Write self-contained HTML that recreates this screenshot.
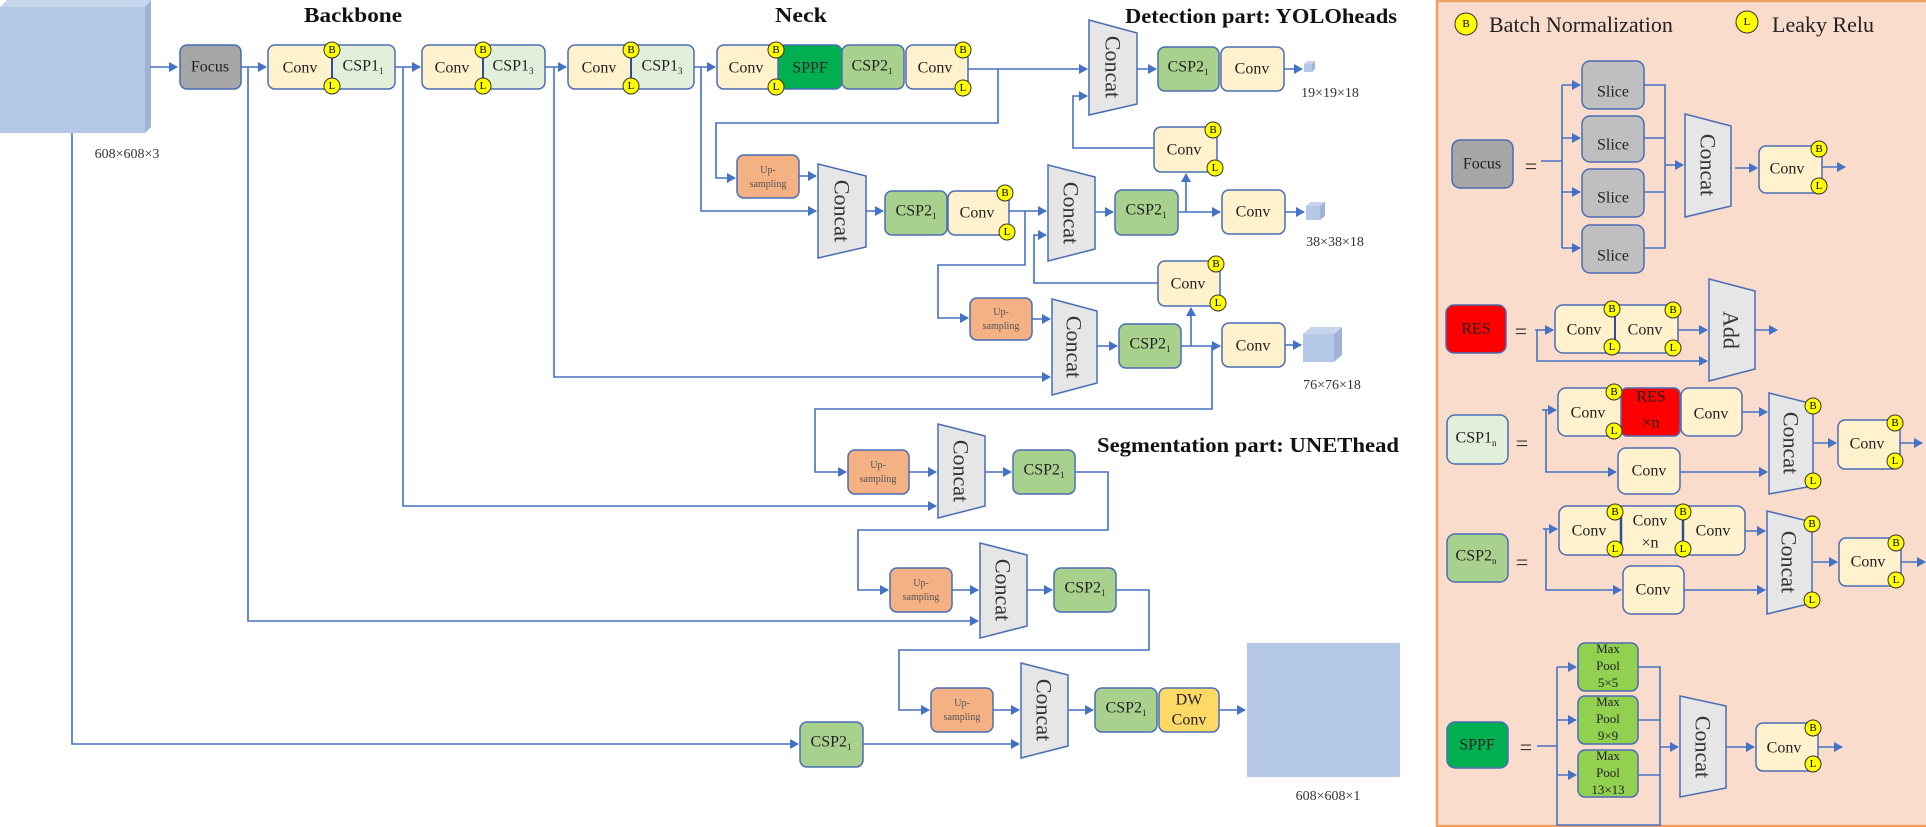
<!DOCTYPE html>
<html><head><meta charset="utf-8"><style>
html,body{margin:0;padding:0;background:#fff;}
svg{display:block;font-family:"Liberation Serif",serif;}
.b{stroke:#4a6db5;stroke-width:1.5;}
.ln{stroke:#4472c4;stroke-width:1.6;fill:none;}
.t{font-size:16px;fill:#222;text-anchor:middle;dominant-baseline:central;}
.c{font-size:22px;fill:#333;text-anchor:middle;dominant-baseline:central;}
.s{font-size:9px;}
.cir{fill:#ffff00;stroke:#333;stroke-width:1;}
.ct{font-size:11px;fill:#000;text-anchor:middle;dominant-baseline:central;}
.ti{font-size:21px;font-weight:bold;fill:#111;text-anchor:middle;}
.lb{font-size:14px;fill:#333;text-anchor:middle;}
</style></head><body>
<svg width="1926" height="827" viewBox="0 0 1926 827" xmlns="http://www.w3.org/2000/svg">
<defs>
<marker id="a" markerWidth="10" markerHeight="10" refX="8" refY="5" orient="auto" markerUnits="userSpaceOnUse"><path d="M0,0 L9,5 L0,10 z" fill="#4472c4"/></marker>
</defs>

<rect x="1437" y="1" width="495" height="825" fill="#f9dccb" stroke="#f0a060" stroke-width="2.5"/>

<polygon points="0,7 7,0 151,0 145,7" fill="#c6d4ec"/>
<polygon points="145,7 151,0 151,127 145,133" fill="#9fb3d6"/>
<rect x="0" y="7" width="145" height="126" fill="#b4c7e7"/>
<text x="127" y="158" class="lb">608×608×3</text>

<text x="353" y="22" class="ti" textLength="98" lengthAdjust="spacingAndGlyphs">Backbone</text>
<text x="801" y="22" class="ti" textLength="52" lengthAdjust="spacingAndGlyphs">Neck</text>
<text x="1261" y="23" class="ti" textLength="272" lengthAdjust="spacingAndGlyphs">Detection part: YOLOheads</text>
<text x="1248" y="452" class="ti" textLength="302" lengthAdjust="spacingAndGlyphs">Segmentation part: UNEThead</text>

<g class="ln">
<path d="M150,67 H177" marker-end="url(#a)"/>
<path d="M241,67 H266" marker-end="url(#a)"/>
<path d="M395,67 H420" marker-end="url(#a)"/>
<path d="M545,67 H566" marker-end="url(#a)"/>
<path d="M694,67 H715" marker-end="url(#a)"/>
<path d="M72,133 V744 H798" marker-end="url(#a)"/>
<path d="M248,67 V621 H978" marker-end="url(#a)"/>
<path d="M403,67 V506 H936" marker-end="url(#a)"/>
<path d="M554,67 V377 H1050" marker-end="url(#a)"/>
<path d="M701,67 V211 H816" marker-end="url(#a)"/>
<path d="M968,69 H1087" marker-end="url(#a)"/>
<path d="M998,69 V123 H716 V178 H735" marker-end="url(#a)"/>
<path d="M799,176 H816" marker-end="url(#a)"/>
<path d="M866,211 H883" marker-end="url(#a)"/>
<path d="M1009,211 H1046" marker-end="url(#a)"/>
<path d="M1025,211 V265 H938 V318 H968" marker-end="url(#a)"/>
<path d="M1032,319 H1050" marker-end="url(#a)"/>
<path d="M1158,283 H1034 V235 H1046" marker-end="url(#a)"/>
<path d="M1095,212 H1113" marker-end="url(#a)"/>
<path d="M1178,212 H1220" marker-end="url(#a)"/>
<path d="M1186,212 V174" marker-end="url(#a)"/>
<path d="M1154,148 H1073 V96 H1087" marker-end="url(#a)"/>
<path d="M1285,212 H1304" marker-end="url(#a)"/>
<path d="M1137,69 H1156" marker-end="url(#a)"/>
<path d="M1284,69 H1302" marker-end="url(#a)"/>
<path d="M1097,346 H1117" marker-end="url(#a)"/>
<path d="M1181,346 H1220" marker-end="url(#a)"/>
<path d="M1191,346 V308" marker-end="url(#a)"/>
<path d="M1285,345 H1301" marker-end="url(#a)"/>
<path d="M1212,346 V409 H815 V472 H846" marker-end="url(#a)"/>
<path d="M909,472 H936" marker-end="url(#a)"/>
<path d="M985,472 H1011" marker-end="url(#a)"/>
<path d="M1075,472 H1108 V530 H858 V590 H888" marker-end="url(#a)"/>
<path d="M952,590 H978" marker-end="url(#a)"/>
<path d="M1027,590 H1052" marker-end="url(#a)"/>
<path d="M1116,590 H1149 V650 H899 V710 H929" marker-end="url(#a)"/>
<path d="M993,710 H1019" marker-end="url(#a)"/>
<path d="M1068,710 H1093" marker-end="url(#a)"/>
<path d="M1219,710 H1245" marker-end="url(#a)"/>
<path d="M863,744 H1019" marker-end="url(#a)"/>
</g>

<rect x="180" y="45" width="61" height="44" rx="7" fill="#a6a6a6" class="b"/>
<text x="210" y="67" class="t">Focus</text>

<g>
<rect x="268" y="45" width="127" height="44" rx="7" fill="#fff2cc" class="b"/>
<path d="M332,46 H388 a6,6 0 0 1 6,6 V82 a6,6 0 0 1 -6,6 H332 z" fill="#e2efda"/>
<line x1="332" y1="46" x2="332" y2="88" stroke="#2f4f8f" stroke-width="2"/>
<text x="300" y="68" class="t">Conv</text><text x="363" y="66" class="t">CSP1<tspan class="s" dy="5">1</tspan></text>
<circle cx="332" cy="50" r="8" class="cir"/><text x="332" y="50" class="ct">B</text>
<circle cx="332" cy="86" r="8" class="cir"/><text x="332" y="86" class="ct">L</text>

<rect x="422" y="45" width="123" height="44" rx="7" fill="#fff2cc" class="b"/>
<path d="M483,46 H538 a6,6 0 0 1 6,6 V82 a6,6 0 0 1 -6,6 H483 z" fill="#e2efda"/>
<line x1="483" y1="46" x2="483" y2="88" stroke="#2f4f8f" stroke-width="2"/>
<text x="452" y="68" class="t">Conv</text><text x="513" y="66" class="t">CSP1<tspan class="s" dy="5">3</tspan></text>
<circle cx="483" cy="50" r="8" class="cir"/><text x="483" y="50" class="ct">B</text>
<circle cx="483" cy="86" r="8" class="cir"/><text x="483" y="86" class="ct">L</text>

<rect x="568" y="45" width="126" height="44" rx="7" fill="#fff2cc" class="b"/>
<path d="M631,46 H687 a6,6 0 0 1 6,6 V82 a6,6 0 0 1 -6,6 H631 z" fill="#e2efda"/>
<line x1="631" y1="46" x2="631" y2="88" stroke="#2f4f8f" stroke-width="2"/>
<text x="599" y="68" class="t">Conv</text><text x="662" y="66" class="t">CSP1<tspan class="s" dy="5">3</tspan></text>
<circle cx="631" cy="50" r="8" class="cir"/><text x="631" y="50" class="ct">B</text>
<circle cx="631" cy="86" r="8" class="cir"/><text x="631" y="86" class="ct">L</text>
</g>

<rect x="717" y="45" width="63" height="44" rx="7" fill="#fff2cc" class="b"/>
<rect x="778" y="45" width="64" height="44" rx="7" fill="#00b050" class="b"/>
<rect x="842" y="45" width="62" height="44" rx="7" fill="#a9d18e" class="b"/>
<rect x="906" y="45" width="62" height="44" rx="7" fill="#fff2cc" class="b"/>
<text x="746" y="68" class="t">Conv</text><text x="810" y="68" class="t">SPPF</text>
<text x="872" y="66" class="t">CSP2<tspan class="s" dy="5">1</tspan></text><text x="935" y="68" class="t">Conv</text>
<circle cx="776" cy="50" r="8" class="cir"/><text x="776" y="50" class="ct">B</text>
<circle cx="776" cy="87" r="8" class="cir"/><text x="776" y="87" class="ct">L</text>
<circle cx="963" cy="50" r="8" class="cir"/><text x="963" y="50" class="ct">B</text>
<circle cx="963" cy="88" r="8" class="cir"/><text x="963" y="88" class="ct">L</text>

<g fill="#e7e6e6" class="b">
<polygon points="1089,20 1137,33 1137,104 1089,115"/>
<polygon points="818,164 866,176 866,247 818,258"/>
<polygon points="1048,165 1095,177 1095,249 1048,261"/>
<polygon points="1052,299 1097,311 1097,383 1052,395"/>
<polygon points="938,424 985,436 985,506 938,518"/>
<polygon points="980,543 1027,555 1027,626 980,638"/>
<polygon points="1021,663 1068,675 1068,746 1021,758"/>
</g>
<g class="c">
<text transform="rotate(90 1113 67)" x="1113" y="67">Concat</text>
<text transform="rotate(90 842 211)" x="842" y="211">Concat</text>
<text transform="rotate(90 1071 213)" x="1071" y="213">Concat</text>
<text transform="rotate(90 1074 347)" x="1074" y="347">Concat</text>
<text transform="rotate(90 961 471)" x="961" y="471">Concat</text>
<text transform="rotate(90 1003 590)" x="1003" y="590">Concat</text>
<text transform="rotate(90 1044 710)" x="1044" y="710">Concat</text>
</g>

<rect x="1158" y="47" width="61" height="44" rx="7" fill="#a9d18e" class="b"/>
<rect x="1221" y="47" width="63" height="44" rx="7" fill="#fff2cc" class="b"/>
<text x="1188" y="67" class="t">CSP2<tspan class="s" dy="5">1</tspan></text><text x="1252" y="69" class="t">Conv</text>
<rect x="1304" y="64" width="8" height="8" fill="#b4c7e7"/><polygon points="1304,64 1307,61 1315,61 1312,64" fill="#c6d4ec"/><polygon points="1312,64 1315,61 1315,69 1312,72" fill="#9fb3d6"/>
<text x="1330" y="97" class="lb">19×19×18</text>

<g fill="#f4b183" class="b">
<rect x="737" y="155" width="62" height="43" rx="7"/>
<rect x="970" y="298" width="62" height="42" rx="7"/>
<rect x="848" y="450" width="61" height="44" rx="7"/>
<rect x="890" y="568" width="62" height="44" rx="7"/>
<rect x="931" y="688" width="62" height="44" rx="7"/>
</g>
<g font-size="10" fill="#555" text-anchor="middle">
<text x="768" y="173">Up-</text><text x="768" y="187">sampling</text>
<text x="1001" y="315">Up-</text><text x="1001" y="329">sampling</text>
<text x="878" y="468">Up-</text><text x="878" y="482">sampling</text>
<text x="921" y="586">Up-</text><text x="921" y="600">sampling</text>
<text x="962" y="706">Up-</text><text x="962" y="720">sampling</text>
</g>

<rect x="885" y="191" width="62" height="44" rx="7" fill="#a9d18e" class="b"/>
<rect x="948" y="191" width="61" height="44" rx="7" fill="#fff2cc" class="b"/>
<text x="916" y="211" class="t">CSP2<tspan class="s" dy="5">1</tspan></text><text x="977" y="213" class="t">Conv</text>
<circle cx="1005" cy="193" r="8" class="cir"/><text x="1005" y="193" class="ct">B</text>
<circle cx="1007" cy="232" r="8" class="cir"/><text x="1007" y="232" class="ct">L</text>

<rect x="1154" y="127" width="63" height="45" rx="7" fill="#fff2cc" class="b"/>
<text x="1184" y="150" class="t">Conv</text>
<circle cx="1213" cy="130" r="8" class="cir"/><text x="1213" y="130" class="ct">B</text>
<circle cx="1215" cy="168" r="8" class="cir"/><text x="1215" y="168" class="ct">L</text>

<rect x="1115" y="190" width="63" height="45" rx="7" fill="#a9d18e" class="b"/>
<rect x="1222" y="190" width="63" height="44" rx="7" fill="#fff2cc" class="b"/>
<text x="1146" y="210" class="t">CSP2<tspan class="s" dy="5">1</tspan></text><text x="1253" y="212" class="t">Conv</text>
<rect x="1306" y="206" width="14" height="14" fill="#b4c7e7"/><polygon points="1306,206 1311,202 1325,202 1320,206" fill="#c6d4ec"/><polygon points="1320,206 1325,202 1325,216 1320,220" fill="#9fb3d6"/>
<text x="1335" y="246" class="lb">38×38×18</text>

<rect x="1158" y="261" width="62" height="45" rx="7" fill="#fff2cc" class="b"/>
<text x="1188" y="284" class="t">Conv</text>
<circle cx="1216" cy="264" r="8" class="cir"/><text x="1216" y="264" class="ct">B</text>
<circle cx="1218" cy="303" r="8" class="cir"/><text x="1218" y="303" class="ct">L</text>

<rect x="1119" y="324" width="62" height="44" rx="7" fill="#a9d18e" class="b"/>
<rect x="1222" y="323" width="63" height="44" rx="7" fill="#fff2cc" class="b"/>
<text x="1150" y="344" class="t">CSP2<tspan class="s" dy="5">1</tspan></text><text x="1253" y="346" class="t">Conv</text>
<rect x="1303" y="334" width="31" height="28" fill="#b4c7e7"/><polygon points="1303,334 1311,327 1342,327 1334,334" fill="#c6d4ec"/><polygon points="1334,334 1342,327 1342,355 1334,362" fill="#9fb3d6"/>
<text x="1332" y="389" class="lb">76×76×18</text>

<rect x="1013" y="450" width="62" height="44" rx="7" fill="#a9d18e" class="b"/>
<text x="1044" y="470" class="t">CSP2<tspan class="s" dy="5">1</tspan></text>
<rect x="1054" y="568" width="62" height="44" rx="7" fill="#a9d18e" class="b"/>
<text x="1085" y="588" class="t">CSP2<tspan class="s" dy="5">1</tspan></text>
<rect x="1095" y="688" width="62" height="44" rx="7" fill="#a9d18e" class="b"/>
<text x="1126" y="708" class="t">CSP2<tspan class="s" dy="5">1</tspan></text>
<rect x="1159" y="688" width="60" height="44" rx="7" fill="#ffd966" class="b"/>
<text x="1189" y="700" class="t">DW</text><text x="1189" y="720" class="t">Conv</text>
<rect x="800" y="722" width="63" height="45" rx="7" fill="#a9d18e" class="b"/>
<text x="831" y="742" class="t">CSP2<tspan class="s" dy="5">1</tspan></text>
<rect x="1247" y="643" width="153" height="134" fill="#b4c7e7"/>
<text x="1328" y="800" class="lb">608×608×1</text>

<circle cx="1466" cy="24" r="11" class="cir"/><text x="1466" y="24" class="ct" font-size="15">B</text>
<text x="1489" y="32" font-size="22" fill="#222">Batch Normalization</text>
<circle cx="1747" cy="22" r="11" class="cir"/><text x="1747" y="22" class="ct" font-size="15">L</text>
<text x="1772" y="32" font-size="22" fill="#222">Leaky Relu</text>

<g class="ln">
<path d="M1541,161 H1562 M1562,85 V248"/>
<path d="M1562,85 H1580" marker-end="url(#a)"/><path d="M1562,138 H1580" marker-end="url(#a)"/>
<path d="M1562,192 H1580" marker-end="url(#a)"/><path d="M1562,248 H1580" marker-end="url(#a)"/>
<path d="M1644,85 H1665 V248 H1644 M1644,138 H1665 M1644,192 H1665"/>
<path d="M1665,165 H1683" marker-end="url(#a)"/>
<path d="M1735,168 H1757" marker-end="url(#a)"/>
<path d="M1822,167 H1845" marker-end="url(#a)"/>
<path d="M1535,330 H1553" marker-end="url(#a)"/>
<path d="M1537,330 V361 H1707" marker-end="url(#a)"/>
<path d="M1678,330 H1707" marker-end="url(#a)"/>
<path d="M1755,330 H1777" marker-end="url(#a)"/>
<path d="M1542,410 H1556" marker-end="url(#a)"/>
<path d="M1546,410 V472 H1616" marker-end="url(#a)"/>
<path d="M1742,412 H1767" marker-end="url(#a)"/>
<path d="M1680,472 H1767" marker-end="url(#a)"/>
<path d="M1813,443 H1836" marker-end="url(#a)"/>
<path d="M1900,443 H1922" marker-end="url(#a)"/>
<path d="M1543,529 H1557" marker-end="url(#a)"/>
<path d="M1546,529 V590 H1621" marker-end="url(#a)"/>
<path d="M1745,531 H1765" marker-end="url(#a)"/>
<path d="M1684,590 H1765" marker-end="url(#a)"/>
<path d="M1813,562 H1837" marker-end="url(#a)"/>
<path d="M1901,562 H1925" marker-end="url(#a)"/>
<path d="M1537,746 H1557 M1557,667 V825 H1660 V667 H1638 M1638,720 H1660 M1638,775 H1660"/>
<path d="M1557,667 H1576" marker-end="url(#a)"/><path d="M1557,720 H1576" marker-end="url(#a)"/>
<path d="M1557,775 H1576" marker-end="url(#a)"/>
<path d="M1660,747 H1678" marker-end="url(#a)"/>
<path d="M1726,747 H1754" marker-end="url(#a)"/>
<path d="M1818,747 H1842" marker-end="url(#a)"/>
</g>

<rect x="1452" y="140" width="61" height="48" rx="8" fill="#a6a6a6" class="b"/>
<text x="1482" y="164" class="t" font-size="18">Focus</text>
<text x="1531" y="166" class="c" font-size="28">=</text>
<g fill="#bfbfbf" class="b">
<rect x="1582" y="61" width="62" height="48" rx="8"/><rect x="1582" y="116" width="62" height="46" rx="8"/>
<rect x="1582" y="169" width="62" height="48" rx="8"/><rect x="1582" y="225" width="62" height="48" rx="8"/>
</g>
<g class="t" font-size="18"><text x="1613" y="92">Slice</text><text x="1613" y="145">Slice</text><text x="1613" y="198">Slice</text><text x="1613" y="256">Slice</text></g>
<polygon points="1685,114 1731,126 1731,206 1685,217" fill="#e7e6e6" class="b"/>
<text transform="rotate(90 1708 165)" x="1708" y="165" class="c">Concat</text>
<rect x="1759" y="146" width="63" height="47" rx="7" fill="#fff2cc" class="b"/>
<text x="1787" y="169" class="t" font-size="18">Conv</text>
<circle cx="1819" cy="149" r="8" class="cir"/><text x="1819" y="149" class="ct">B</text>
<circle cx="1819" cy="186" r="8" class="cir"/><text x="1819" y="186" class="ct">L</text>

<rect x="1446" y="305" width="60" height="48" rx="8" fill="#ff0000" class="b"/>
<text x="1476" y="329" class="t" font-size="18">RES</text>
<text x="1521" y="331" class="c" font-size="28">=</text>
<rect x="1555" y="305" width="123" height="48" rx="8" fill="#fff2cc" class="b"/>
<line x1="1615" y1="306" x2="1615" y2="352" stroke="#2f4f8f" stroke-width="2"/>
<text x="1584" y="330" class="t" font-size="18">Conv</text><text x="1645" y="330" class="t" font-size="18">Conv</text>
<circle cx="1612" cy="309" r="8" class="cir"/><text x="1612" y="309" class="ct">B</text>
<circle cx="1673" cy="310" r="8" class="cir"/><text x="1673" y="310" class="ct">B</text>
<circle cx="1612" cy="347" r="8" class="cir"/><text x="1612" y="347" class="ct">L</text>
<circle cx="1673" cy="348" r="8" class="cir"/><text x="1673" y="348" class="ct">L</text>
<polygon points="1709,279 1755,291 1755,369 1709,381" fill="#e7e6e6" class="b"/>
<text transform="rotate(90 1731 330)" x="1731" y="330" class="c">Add</text>

<rect x="1447" y="415" width="61" height="49" rx="8" fill="#e2efda" class="b"/>
<text x="1476" y="438" class="t" font-size="17">CSP1<tspan class="s" dy="5">n</tspan></text>
<text x="1522" y="443" class="c" font-size="28">=</text>
<rect x="1558" y="388" width="64" height="48" rx="8" fill="#fff2cc" class="b"/>
<rect x="1621" y="388" width="59" height="48" rx="6" fill="#ff0000" class="b"/>
<rect x="1681" y="388" width="61" height="48" rx="8" fill="#fff2cc" class="b"/>
<text x="1588" y="413" class="t" font-size="18">Conv</text>
<text x="1651" y="397" class="t" font-size="17">RES</text><text x="1651" y="423" class="t" font-size="17">×n</text>
<text x="1711" y="414" class="t" font-size="18">Conv</text>
<circle cx="1614" cy="392" r="8" class="cir"/><text x="1614" y="392" class="ct">B</text>
<circle cx="1614" cy="431" r="8" class="cir"/><text x="1614" y="431" class="ct">L</text>
<rect x="1618" y="448" width="62" height="46" rx="8" fill="#fff2cc" class="b"/>
<text x="1649" y="471" class="t" font-size="18">Conv</text>
<polygon points="1769,393 1813,404 1813,486 1769,494" fill="#e7e6e6" class="b"/>
<text transform="rotate(90 1791 443)" x="1791" y="443" class="c">Concat</text>
<circle cx="1813" cy="406" r="8" class="cir"/><text x="1813" y="406" class="ct">B</text>
<circle cx="1813" cy="481" r="8" class="cir"/><text x="1813" y="481" class="ct">L</text>
<rect x="1838" y="420" width="62" height="49" rx="7" fill="#fff2cc" class="b"/>
<text x="1867" y="444" class="t" font-size="18">Conv</text>
<circle cx="1895" cy="423" r="8" class="cir"/><text x="1895" y="423" class="ct">B</text>
<circle cx="1895" cy="461" r="8" class="cir"/><text x="1895" y="461" class="ct">L</text>

<rect x="1447" y="534" width="61" height="48" rx="8" fill="#a9d18e" class="b"/>
<text x="1476" y="556" class="t" font-size="17">CSP2<tspan class="s" dy="5">n</tspan></text>
<text x="1522" y="562" class="c" font-size="28">=</text>
<rect x="1559" y="506" width="186" height="49" rx="8" fill="#fff2cc" class="b"/>
<line x1="1621" y1="507" x2="1621" y2="554" stroke="#2f4f8f" stroke-width="2.5"/>
<line x1="1683" y1="507" x2="1683" y2="554" stroke="#2f4f8f" stroke-width="2.5"/>
<text x="1589" y="531" class="t" font-size="18">Conv</text>
<text x="1650" y="521" class="t" font-size="17">Conv</text><text x="1650" y="543" class="t" font-size="17">×n</text>
<text x="1713" y="531" class="t" font-size="18">Conv</text>
<circle cx="1615" cy="512" r="8" class="cir"/><text x="1615" y="512" class="ct">B</text>
<circle cx="1683" cy="512" r="8" class="cir"/><text x="1683" y="512" class="ct">B</text>
<circle cx="1615" cy="549" r="8" class="cir"/><text x="1615" y="549" class="ct">L</text>
<circle cx="1683" cy="549" r="8" class="cir"/><text x="1683" y="549" class="ct">L</text>
<rect x="1623" y="566" width="61" height="48" rx="8" fill="#fff2cc" class="b"/>
<text x="1653" y="590" class="t" font-size="18">Conv</text>
<polygon points="1767,511 1812,522 1812,603 1767,614" fill="#e7e6e6" class="b"/>
<text transform="rotate(90 1789 562)" x="1789" y="562" class="c">Concat</text>
<circle cx="1812" cy="524" r="8" class="cir"/><text x="1812" y="524" class="ct">B</text>
<circle cx="1812" cy="600" r="8" class="cir"/><text x="1812" y="600" class="ct">L</text>
<rect x="1839" y="538" width="62" height="48" rx="7" fill="#fff2cc" class="b"/>
<text x="1868" y="562" class="t" font-size="18">Conv</text>
<circle cx="1896" cy="543" r="8" class="cir"/><text x="1896" y="543" class="ct">B</text>
<circle cx="1896" cy="580" r="8" class="cir"/><text x="1896" y="580" class="ct">L</text>

<rect x="1447" y="722" width="61" height="46" rx="8" fill="#00b050" class="b"/>
<text x="1477" y="745" class="t" font-size="18">SPPF</text>
<text x="1526" y="747" class="c" font-size="28">=</text>
<g fill="#92d050" class="b">
<rect x="1578" y="643" width="60" height="48" rx="7"/><rect x="1578" y="696" width="60" height="48" rx="7"/><rect x="1578" y="750" width="60" height="47" rx="7"/>
</g>
<g font-size="13" fill="#222" text-anchor="middle">
<text x="1608" y="653">Max</text><text x="1608" y="670">Pool</text><text x="1608" y="687">5×5</text>
<text x="1608" y="706">Max</text><text x="1608" y="723">Pool</text><text x="1608" y="740">9×9</text>
<text x="1608" y="760">Max</text><text x="1608" y="777">Pool</text><text x="1608" y="794">13×13</text>
</g>
<polygon points="1680,696 1726,706 1726,788 1680,797" fill="#e7e6e6" class="b"/>
<text transform="rotate(90 1703 747)" x="1703" y="747" class="c">Concat</text>
<rect x="1756" y="723" width="62" height="48" rx="7" fill="#fff2cc" class="b"/>
<text x="1784" y="748" class="t" font-size="18">Conv</text>
<circle cx="1813" cy="728" r="8" class="cir"/><text x="1813" y="728" class="ct">B</text>
<circle cx="1813" cy="764" r="8" class="cir"/><text x="1813" y="764" class="ct">L</text>
</svg>
</body></html>
